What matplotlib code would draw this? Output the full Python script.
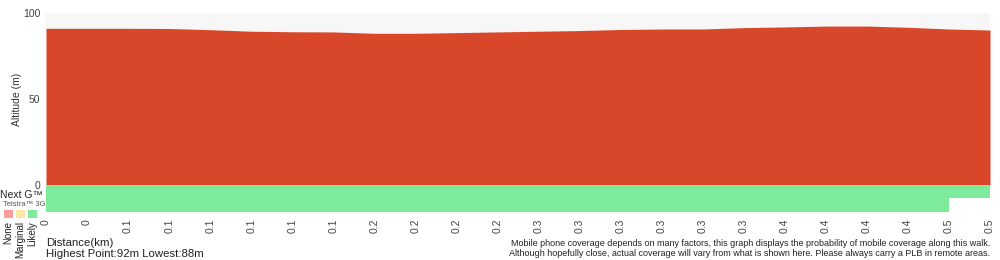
import matplotlib
matplotlib.use("Agg")
import matplotlib.pyplot as plt
import numpy as np

plt.rcParams['font.family'] = ['Liberation Sans', 'DejaVu Sans']

# ---- data ----
tick_labels = ["0", "0", "0.1", "0.1", "0.1", "0.1", "0.1", "0.1",
               "0.2", "0.2", "0.2", "0.2", "0.3", "0.3", "0.3", "0.3",
               "0.3", "0.3", "0.4", "0.4", "0.4", "0.4", "0.5", "0.5"]
altitude = [91.1, 91.1, 91.1, 91.0, 90.3, 89.4, 89.1, 89.0,
            88.2, 88.2, 88.6, 89.0, 89.4, 89.8, 90.4, 90.7,
            90.7, 91.5, 91.9, 92.4, 92.4, 91.7, 90.7, 90.1]
# coverage per segment between points: 2 = likely, 1 = marginal, 0 = none, -1 = no data
nextg_cov = [2] * 23
g3_cov = [2] * 22 + [-1]
y_ticks = [0, 50, 100]

RED = "#d9472a"
GREEN = "#7deb9b"
PINK = "#ff9d9d"
YELLOW = "#fde7a8"
cov_colors = {2: GREEN, 1: YELLOW, 0: PINK}
TXT = "#333333"

W, H = 1000, 260
fig = plt.figure(figsize=(W / 100, H / 100), dpi=100)

def fpos(x0, y0, x1, y1):
    return [x0 / W, 1 - y1 / H, (x1 - x0) / W, (y1 - y0) / H]

x = np.arange(len(altitude))

ax = fig.add_axes(fpos(46, 13, 990, 185))
ax.set_facecolor("#f7f7f7")
ax.fill_between(x, 0, altitude, color=RED, lw=0)
ax.set_xlim(0, len(x) - 1)
ax.set_ylim(0, 100)
ax.set_yticks(y_ticks)
ax.set_yticklabels([str(v) for v in y_ticks], fontsize=7.5, color="#444444")
ax.tick_params(axis="y", length=0, pad=4)
ax.set_xticks([])
for s in ax.spines.values():
    s.set_visible(False)
fig.text(17 / W, 1 - 99 / H, "Altitude (m)", rotation=90, fontsize=7.5, color=TXT,
         va="center", ha="center")

cax = fig.add_axes(fpos(46, 185, 990, 212))
cax.set_xlim(0, len(x) - 1)
cax.set_ylim(0, 2)
for i in range(len(x) - 1):
    c = nextg_cov[i]
    if c >= 0:
        cax.fill_between([i, i + 1], 1, 2, color=cov_colors[c], lw=0)
    c = g3_cov[i]
    if c >= 0:
        cax.fill_between([i, i + 1], 0, 1, color=cov_colors[c], lw=0)
cax.set_yticks([])
cax.set_xticks(x)
cax.set_xticklabels(tick_labels, rotation=90, fontsize=7.5, color="#444444",
                    va="top", ha="center")
cax.tick_params(axis="x", length=0, pad=5)
for s in cax.spines.values():
    s.set_visible(False)

# left side labels
fig.text(0 / W, 1 - 194.5 / H, "Next G™", fontsize=7.5, color="#222222", va="center", ha="left")
fig.text(3 / W, 1 - 204.5 / H, "Telstra™ 3G", fontsize=5.5, color="#555555", va="center", ha="left")
for xc, col, lab in [(8.5, PINK, "None"), (20.5, YELLOW, "Marginal"), (32.5, GREEN, "Likely")]:
    fig.patches.append(plt.Rectangle(((xc - 4.5) / W, 1 - 218 / H), 9 / W, 8 / H,
                                     transform=fig.transFigure, color=col, lw=0))
    fig.text(xc / W, 1 - 221 / H, lab, rotation=90, fontsize=7, color="#222222",
             va="top", ha="center")

fig.text(46 / W, 1 - 243 / H, "Distance(km)", fontsize=8.2, color="#222222", va="center")
fig.text(46 / W, 1 - 254 / H, "Highest Point:92m Lowest:88m", fontsize=8.2, color="#222222", va="center")
fig.text(990 / W, 1 - 243 / H,
         "Mobile phone coverage depends on many factors, this graph displays the probability of mobile coverage along this walk.",
         fontsize=6.5, color="#222222", va="center", ha="right")
fig.text(990 / W, 1 - 254 / H,
         "Although hopefully close, actual coverage will vary from what is shown here. Please always carry a PLB in remote areas.",
         fontsize=6.5, color="#222222", va="center", ha="right")

fig.savefig("out.png", dpi=100)
